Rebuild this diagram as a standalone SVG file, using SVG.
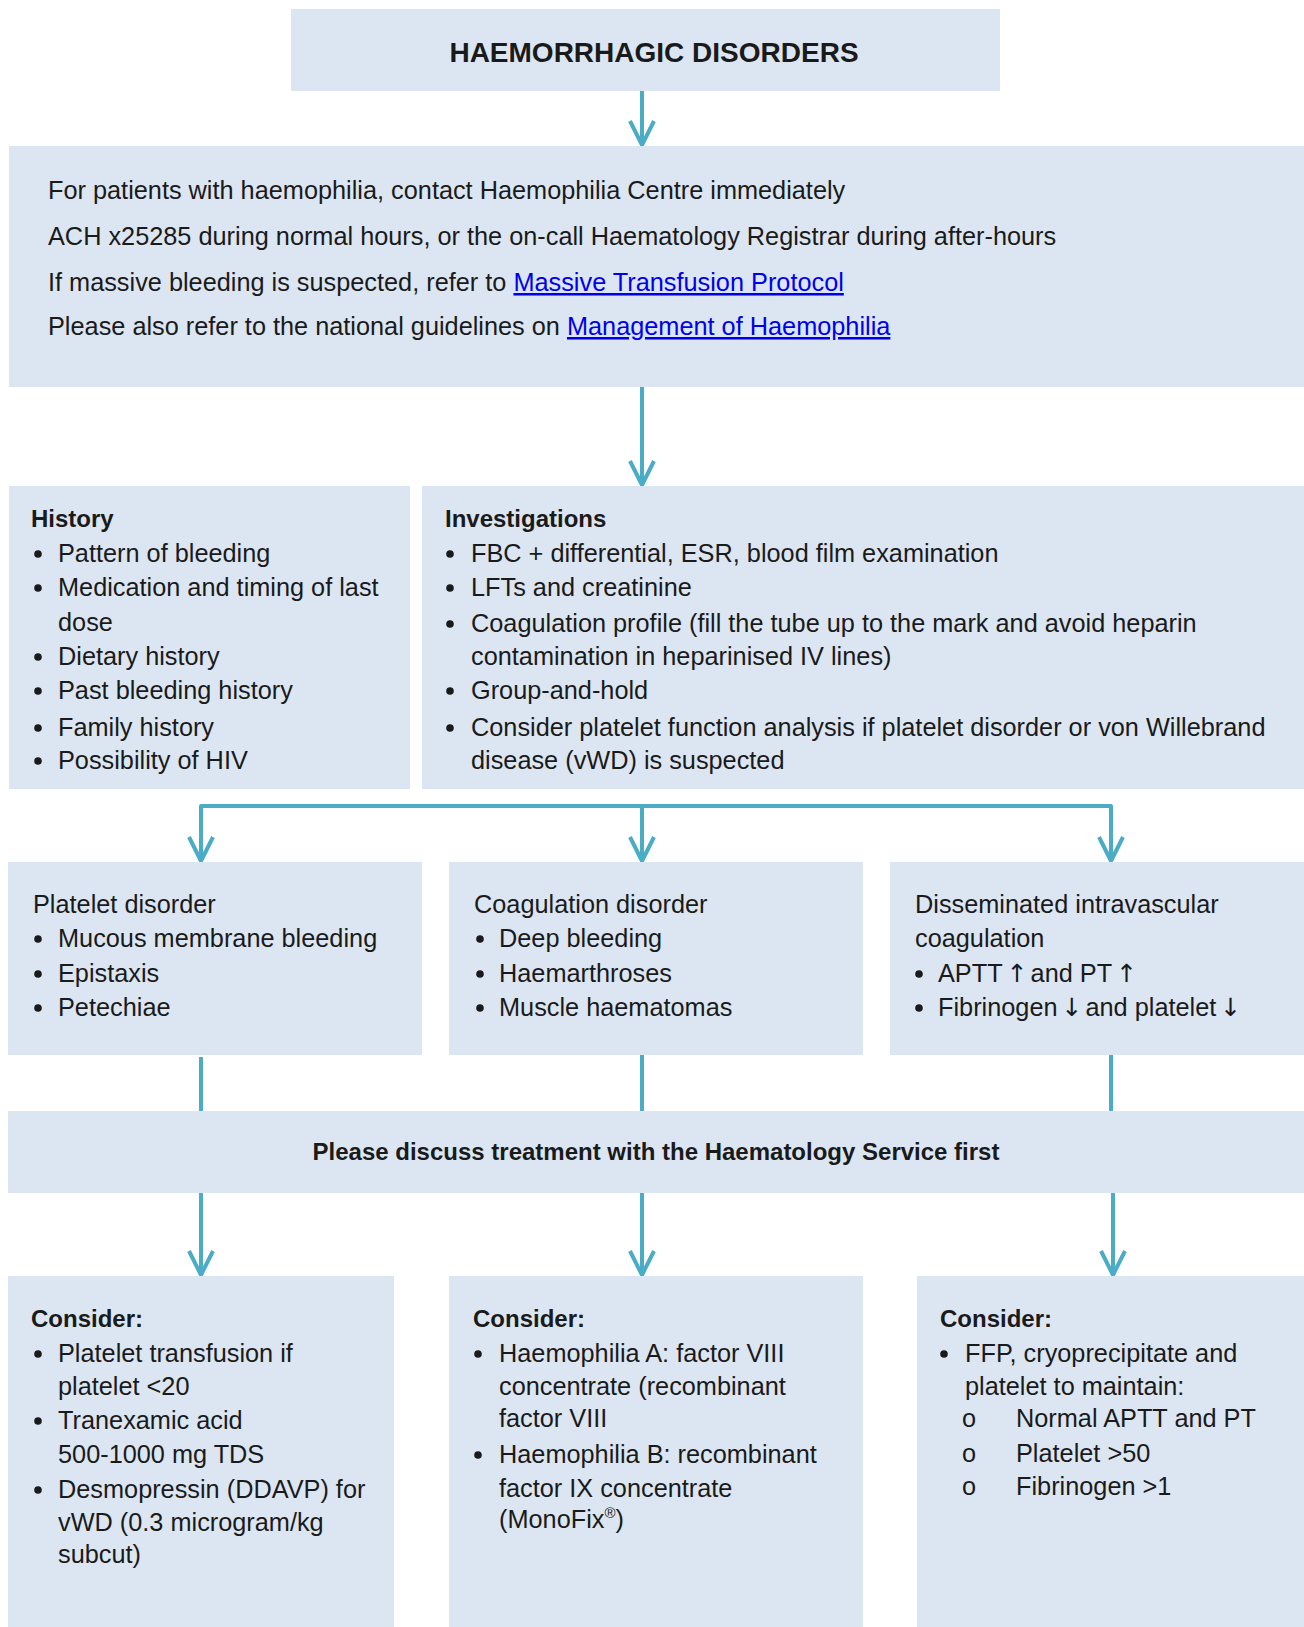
<svg xmlns="http://www.w3.org/2000/svg" width="1304" height="1627" viewBox="0 0 1304 1627">
<style>
.box{fill:#DCE6F2;}
text{font-family:"Liberation Sans",Arial,sans-serif;font-size:25.3px;fill:#1a1a1a;}
.b{font-weight:bold;font-size:24px;}
.t{font-weight:bold;font-size:28px;}
.lk{fill:#0000EE;text-decoration:underline;}
.ar{font-family:"DejaVu Sans",sans-serif;font-size:25px;}
.con{stroke:#4BACC6;stroke-width:4;fill:none;stroke-linejoin:round;}
.dot{fill:#1a1a1a;}
</style>
<rect width="1304" height="1627" fill="#ffffff"/>

<g id="connectors">
  <path class="con" d="M642,91 V144"/>
  <path class="con" d="M630,121 L642,145 L654,121"/>
  <path class="con" d="M642,387 V484"/>
  <path class="con" d="M630,461 L642,485 L654,461"/>
  <path class="con" d="M201,862 V806 H1111 V860"/>
  <path class="con" d="M642,806 V860"/>
  <path class="con" d="M189,837 L201,861 L213,837"/>
  <path class="con" d="M630,837 L642,861 L654,837"/>
  <path class="con" d="M1099,837 L1111,861 L1123,837"/>
  <path class="con" d="M201,1057 V1111"/>
  <path class="con" d="M642,1055 V1111"/>
  <path class="con" d="M1111,1055 V1111"/>
  <path class="con" d="M201,1193 V1274"/>
  <path class="con" d="M642,1193 V1274"/>
  <path class="con" d="M1113,1193 V1274"/>
  <path class="con" d="M189,1251 L201,1275 L213,1251"/>
  <path class="con" d="M630,1251 L642,1275 L654,1251"/>
  <path class="con" d="M1101,1251 L1113,1275 L1125,1251"/>
</g>

<g id="title">
  <rect class="box" x="291" y="9" width="709" height="82"/>
  <text class="t" x="654" y="62" text-anchor="middle">HAEMORRHAGIC DISORDERS</text>
</g>

<g id="info">
  <rect class="box" x="9" y="146" width="1295" height="241"/>
  <text x="48" y="199">For patients with haemophilia, contact Haemophilia Centre immediately</text>
  <text x="48" y="245">ACH x25285 during normal hours, or the on-call Haematology Registrar during after-hours</text>
  <text x="48" y="291">If massive bleeding is suspected, refer to <tspan class="lk">Massive Transfusion Protocol</tspan></text>
  <text x="48" y="335">Please also refer to the national guidelines on <tspan class="lk">Management of Haemophilia</tspan></text>
</g>

<g id="history">
  <rect class="box" x="9" y="486" width="401" height="303"/>
  <text class="b" x="31" y="527">History</text>
  <circle class="dot" cx="38" cy="554" r="3.8"/><text x="58" y="562">Pattern of bleeding</text>
  <circle class="dot" cx="38" cy="588" r="3.8"/><text x="58" y="596">Medication and timing of last</text>
  <text x="58" y="631">dose</text>
  <circle class="dot" cx="38" cy="657" r="3.8"/><text x="58" y="665">Dietary history</text>
  <circle class="dot" cx="38" cy="691" r="3.8"/><text x="58" y="699">Past bleeding history</text>
  <circle class="dot" cx="38" cy="728" r="3.8"/><text x="58" y="736">Family history</text>
  <circle class="dot" cx="38" cy="761" r="3.8"/><text x="58" y="769">Possibility of HIV</text>
</g>

<g id="investigations">
  <rect class="box" x="422" y="486" width="882" height="303"/>
  <text class="b" x="445" y="527">Investigations</text>
  <circle class="dot" cx="450" cy="554" r="3.8"/><text x="471" y="562">FBC + differential, ESR, blood film examination</text>
  <circle class="dot" cx="450" cy="588" r="3.8"/><text x="471" y="596">LFTs and creatinine</text>
  <circle class="dot" cx="450" cy="624" r="3.8"/><text x="471" y="632">Coagulation profile (fill the tube up to the mark and avoid heparin</text>
  <text x="471" y="665">contamination in heparinised IV lines)</text>
  <circle class="dot" cx="450" cy="691" r="3.8"/><text x="471" y="699">Group-and-hold</text>
  <circle class="dot" cx="450" cy="728" r="3.8"/><text x="471" y="736">Consider platelet function analysis if platelet disorder or von Willebrand</text>
  <text x="471" y="769">disease (vWD) is suspected</text>
</g>

<g id="platelet-disorder">
  <rect class="box" x="8" y="862" width="414" height="193"/>
  <text x="33" y="913">Platelet disorder</text>
  <circle class="dot" cx="38" cy="939" r="3.8"/><text x="58" y="947">Mucous membrane bleeding</text>
  <circle class="dot" cx="38" cy="974" r="3.8"/><text x="58" y="982">Epistaxis</text>
  <circle class="dot" cx="38" cy="1008" r="3.8"/><text x="58" y="1016">Petechiae</text>
</g>

<g id="coagulation-disorder">
  <rect class="box" x="449" y="862" width="414" height="193"/>
  <text x="474" y="913">Coagulation disorder</text>
  <circle class="dot" cx="480" cy="939" r="3.8"/><text x="499" y="947">Deep bleeding</text>
  <circle class="dot" cx="480" cy="974" r="3.8"/><text x="499" y="982">Haemarthroses</text>
  <circle class="dot" cx="480" cy="1008" r="3.8"/><text x="499" y="1016">Muscle haematomas</text>
</g>

<g id="dic">
  <rect class="box" x="890" y="862" width="414" height="193"/>
  <text x="915" y="913">Disseminated intravascular</text>
  <text x="915" y="947">coagulation</text>
  <circle class="dot" cx="919" cy="974" r="3.8"/><text x="938" y="982">APTT<tspan class="ar" dx="4">↑</tspan><tspan dx="3">and PT</tspan><tspan class="ar" dx="4">↑</tspan></text>
  <circle class="dot" cx="919" cy="1008" r="3.8"/><text x="938" y="1016">Fibrinogen<tspan class="ar" dx="4">↓</tspan><tspan dx="3">and platelet</tspan><tspan class="ar" dx="4">↓</tspan></text>
</g>

<g id="discuss">
  <rect class="box" x="8" y="1111" width="1296" height="82"/>
  <text class="b" x="656" y="1160" text-anchor="middle">Please discuss treatment with the Haematology Service first</text>
</g>

<g id="consider-platelet">
  <rect class="box" x="8" y="1276" width="386" height="351"/>
  <text class="b" x="31" y="1327">Consider:</text>
  <circle class="dot" cx="38" cy="1354" r="3.8"/><text x="58" y="1362">Platelet transfusion if</text>
  <text x="58" y="1395">platelet &lt;20</text>
  <circle class="dot" cx="38" cy="1421" r="3.8"/><text x="58" y="1429">Tranexamic acid</text>
  <text x="58" y="1463">500-1000 mg TDS</text>
  <circle class="dot" cx="38" cy="1490" r="3.8"/><text x="58" y="1498">Desmopressin (DDAVP) for</text>
  <text x="58" y="1531">vWD (0.3 microgram/kg</text>
  <text x="58" y="1563">subcut)</text>
</g>

<g id="consider-coagulation">
  <rect class="box" x="449" y="1276" width="414" height="351"/>
  <text class="b" x="473" y="1327">Consider:</text>
  <circle class="dot" cx="478" cy="1354" r="3.8"/><text x="499" y="1362">Haemophilia A: factor VIII</text>
  <text x="499" y="1395">concentrate (recombinant</text>
  <text x="499" y="1427">factor VIII</text>
  <circle class="dot" cx="478" cy="1455" r="3.8"/><text x="499" y="1463">Haemophilia B: recombinant</text>
  <text x="499" y="1497">factor IX concentrate</text>
  <text x="499" y="1528">(MonoFix<tspan font-size="15" dy="-10">®</tspan><tspan dy="10">)</tspan></text>
</g>

<g id="consider-dic">
  <rect class="box" x="917" y="1276" width="387" height="351"/>
  <text class="b" x="940" y="1327">Consider:</text>
  <circle class="dot" cx="944" cy="1354" r="3.8"/><text x="965" y="1362">FFP, cryoprecipitate and</text>
  <text x="965" y="1395">platelet to maintain:</text>
  <text x="962" y="1427" font-size="19">o</text><text x="1016" y="1427">Normal APTT and PT</text>
  <text x="962" y="1462" font-size="19">o</text><text x="1016" y="1462">Platelet &gt;50</text>
  <text x="962" y="1495" font-size="19">o</text><text x="1016" y="1495">Fibrinogen &gt;1</text>
</g>
</svg>
